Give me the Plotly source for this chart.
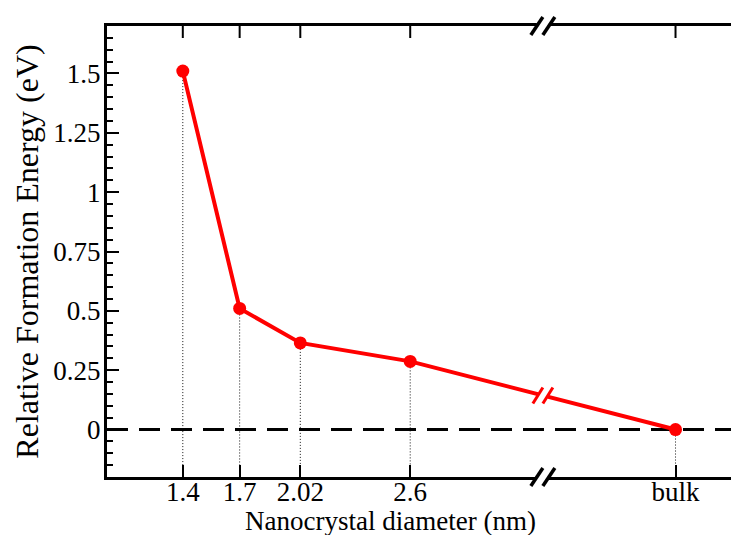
import plotly.graph_objects as go

# ---- data ----
diam_labels = ["1.4", "1.7", "2.02", "2.6", "bulk"]
diam_values = [1.4, 1.7, 2.02, 2.6, 4.0]
energies = [1.51, 0.51, 0.365, 0.287, 0.0]
y_tickvals = [0, 0.25, 0.5, 0.75, 1, 1.25, 1.5]
y_ticktext = ["0", "0.25", "0.5", "0.75", "1", "1.25", "1.5"]
break_x = 3.3  # position of the axis break (data units)

X_RANGE = [1.0, 4.335]
Y_RANGE = [-0.2, 1.7]
FONT = "Liberation Serif"

# the page body adds an 8px offset; the figure is sized so it fills the 739x535 window
PAGE_OFFSET = 8
W, H = 739 - PAGE_OFFSET, 535 - PAGE_OFFSET
M_L, M_R, M_T, M_B = 107 - PAGE_OFFSET, 0, 26 - PAGE_OFFSET, 58
PLOT_W, PLOT_H = W - M_L - M_R, H - M_T - M_B
X_PER_PX = (X_RANGE[1] - X_RANGE[0]) / PLOT_W
Y_PER_PX = (Y_RANGE[1] - Y_RANGE[0]) / PLOT_H


def xfrac(v):
    return (v - X_RANGE[0]) / (X_RANGE[1] - X_RANGE[0])


fig = go.Figure()

# dotted drop lines
dx, dy = [], []
for xv, yv in zip(diam_values, energies):
    dx += [xv, xv, None]
    dy += [yv, Y_RANGE[0], None]
fig.add_trace(go.Scatter(x=dx, y=dy, mode="lines",
                         line=dict(color="#111111", width=1, dash="1px,2px"),
                         hoverinfo="skip", showlegend=False))

# zero dashed line
fig.add_trace(go.Scatter(x=X_RANGE, y=[0, 0], mode="lines",
                         line=dict(color="black", width=3, dash="21px,11px"),
                         hoverinfo="skip", showlegend=False))

# mirrored ticks: top (inward, 12px) and right (only 4px visible)
tx, ty = [], []
for xv in diam_values:
    tx += [xv, xv, None]
    ty += [Y_RANGE[1], Y_RANGE[1] - 12 * Y_PER_PX, None]
for yv in y_tickvals:
    tx += [X_RANGE[1] - 4 * X_PER_PX, X_RANGE[1], None]
    ty += [yv, yv, None]
fig.add_trace(go.Scatter(x=tx, y=ty, mode="lines", line=dict(color="black", width=2),
                         hoverinfo="skip", showlegend=False))

# main series
fig.add_trace(go.Scatter(x=diam_values, y=energies, mode="lines+markers",
                         line=dict(color="#ff0000", width=4),
                         marker=dict(color="#ff0000", size=13),
                         showlegend=False))

shapes = []
# ---- axis break marks ----
fx = xfrac(break_x)
for yf in (0, 1):
    shapes.append(dict(type="line", xref="x domain", yref="y domain",
                       xsizemode="pixel", ysizemode="pixel", xanchor=fx, yanchor=yf,
                       x0=-6, x1=6, y0=0, y1=0, line=dict(color="white", width=8),
                       layer="above"))
    for c in (-6, 6):
        shapes.append(dict(type="line", xref="x domain", yref="y domain",
                           xsizemode="pixel", ysizemode="pixel", xanchor=fx, yanchor=yf,
                           x0=c - 6, x1=c + 6, y0=-9, y1=9,
                           line=dict(color="black", width=3.5), layer="above"))

# break on red line (interpolated between the last two points)
t = (break_x - diam_values[3]) / (diam_values[4] - diam_values[3])
by = energies[3] + t * (energies[4] - energies[3])
shapes.append(dict(type="line", xref="x", yref="y", xsizemode="pixel", ysizemode="pixel",
                   xanchor=break_x, yanchor=by, x0=-5, x1=5, y0=1.3, y1=-1.3,
                   line=dict(color="white", width=9), layer="above"))
for c in (-5, 5):
    shapes.append(dict(type="line", xref="x", yref="y", xsizemode="pixel", ysizemode="pixel",
                       xanchor=break_x, yanchor=by, x0=c - 5, x1=c + 5, y0=-8, y1=8,
                       line=dict(color="#ff0000", width=3), layer="above"))

annotations = [
    dict(text="Nanocrystal diameter (nm)", xref="paper", yref="paper",
         x=0.449, y=-0.097, xanchor="center", yanchor="middle", showarrow=False,
         font=dict(family=FONT, size=27, color="black")),
    dict(text="Relative Formation Energy (eV)", xref="paper", yref="paper",
         x=-0.127, y=0.499, xanchor="center", yanchor="middle", showarrow=False,
         textangle=-90, font=dict(family=FONT, size=32, color="black")),
]

fig.update_layout(
    width=W, height=H,
    margin=dict(l=M_L, r=M_R, t=M_T, b=M_B),
    paper_bgcolor="white", plot_bgcolor="white",
    font=dict(family=FONT, color="black", size=27),
    shapes=shapes,
    annotations=annotations,
    xaxis=dict(range=X_RANGE, tickvals=diam_values, ticktext=diam_labels,
               ticks="inside", ticklen=12, tickwidth=2, tickcolor="black",
               showline=True, linewidth=3, linecolor="black", mirror=True,
               showgrid=False, zeroline=False, automargin=False,
               ticklabelstandoff=-11,
               tickfont=dict(family=FONT, size=27)),
    yaxis=dict(range=Y_RANGE, tickvals=y_tickvals, ticktext=y_ticktext,
               ticks="inside", ticklen=12, tickwidth=2, tickcolor="black",
               minor=dict(dtick=0.05, tick0=0, ticks="inside", ticklen=6, tickwidth=2,
                          tickcolor="black", showgrid=False),
               showline=True, linewidth=3, linecolor="black", mirror=False,
               showgrid=False, zeroline=False, automargin=False,
               ticklabelstandoff=-2,
               tickfont=dict(family=FONT, size=27)),
)

fig.write_html("out.html")
